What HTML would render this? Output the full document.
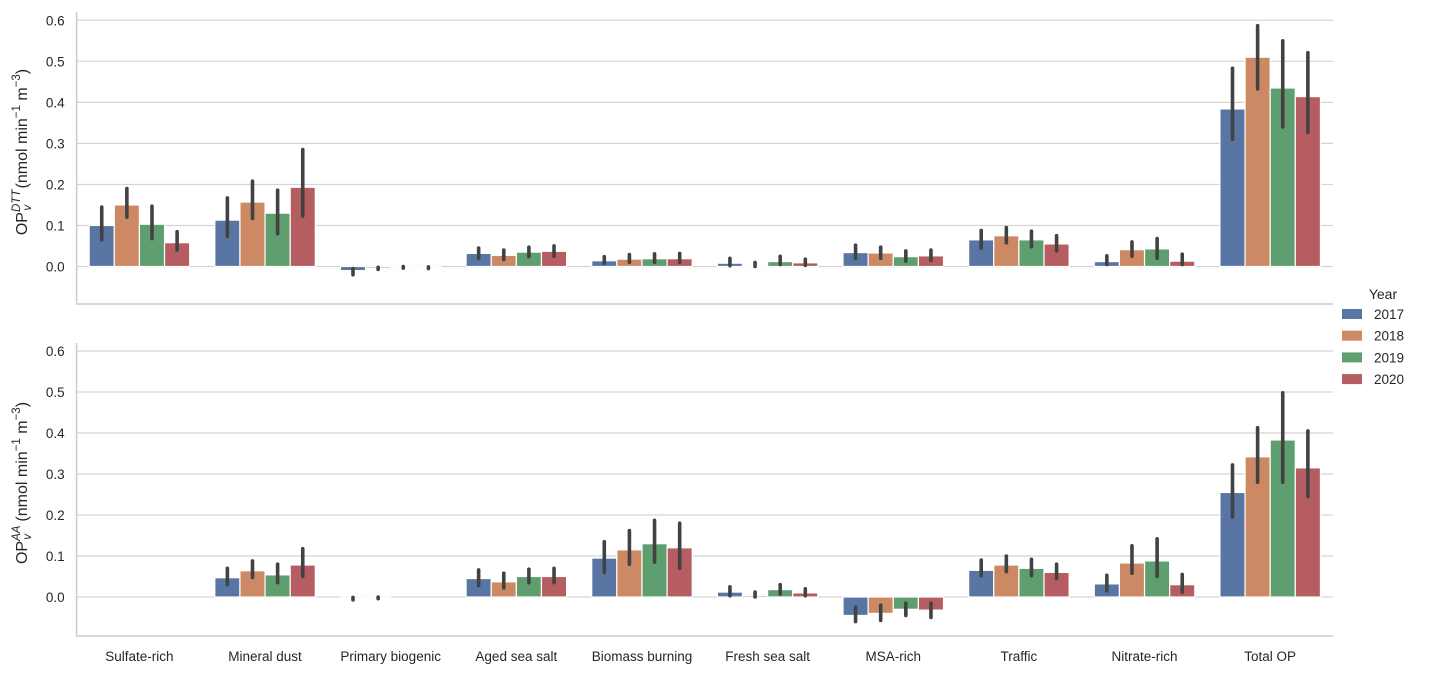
<!DOCTYPE html>
<html><head><meta charset="utf-8"><style>
body{margin:0;background:#fff;}
svg text{font-family:"Liberation Sans","DejaVu Sans",sans-serif;fill:#262626;}
</style></head><body>
<svg id="c" width="1434" height="676" xmlns="http://www.w3.org/2000/svg">
<g id="p0"></g>
<g id="p1"></g>
<g id="leg"></g>
</svg>
<script>
const categories=["Sulfate-rich","Mineral dust","Primary biogenic","Aged sea salt","Biomass burning","Fresh sea salt","MSA-rich","Traffic","Nitrate-rich","Total OP"];
const years=["2017","2018","2019","2020"];
const yTicks=[0.0,0.1,0.2,0.3,0.4,0.5,0.6];
const dtt2017=[0.100,0.113,-0.010,0.032,0.014,0.008,0.034,0.065,0.012,0.384];
const dtt2018=[0.150,0.157,-0.004,0.027,0.018,0.003,0.033,0.075,0.041,0.510];
const dtt2019=[0.103,0.130,-0.002,0.035,0.019,0.012,0.024,0.065,0.043,0.435];
const dtt2020=[0.058,0.193,-0.003,0.037,0.019,0.009,0.026,0.055,0.013,0.414];
const dttLo2017=[0.065,0.073,-0.020,0.020,0.008,0.002,0.020,0.045,0.005,0.310];
const dttHi2017=[0.145,0.167,-0.005,0.045,0.024,0.020,0.052,0.088,0.026,0.483];
const dttLo2018=[0.120,0.117,-0.007,0.017,0.010,0.000,0.020,0.058,0.025,0.433];
const dttHi2018=[0.190,0.208,-0.002,0.040,0.029,0.010,0.047,0.095,0.060,0.587];
const dttLo2019=[0.068,0.080,-0.004,0.024,0.010,0.005,0.013,0.048,0.020,0.340];
const dttHi2019=[0.147,0.186,0.000,0.047,0.031,0.025,0.038,0.086,0.068,0.550];
const dttLo2020=[0.040,0.123,-0.005,0.025,0.010,0.003,0.015,0.038,0.005,0.327];
const dttHi2020=[0.085,0.285,-0.001,0.050,0.032,0.018,0.040,0.075,0.030,0.521];
const aa2017=[0.000,0.047,-0.003,0.045,0.095,0.012,-0.045,0.065,0.032,0.255];
const aa2018=[0.000,0.064,-0.001,0.037,0.115,0.004,-0.040,0.078,0.083,0.342];
const aa2019=[0.000,0.054,0.000,0.050,0.130,0.018,-0.030,0.070,0.088,0.383];
const aa2020=[0.000,0.078,0.000,0.050,0.120,0.010,-0.032,0.060,0.030,0.315];
const aaLo2017=[0,0.030,-0.007,0.028,0.060,0.003,-0.060,0.052,0.015,0.195];
const aaHi2017=[0,0.070,-0.001,0.066,0.135,0.025,-0.025,0.090,0.053,0.322];
const aaLo2018=[0,0.048,-0.004,0.022,0.080,0.000,-0.057,0.062,0.058,0.280];
const aaHi2018=[0,0.088,0.000,0.058,0.162,0.012,-0.020,0.100,0.125,0.413];
const aaLo2019=[0,0.035,0,0.035,0.085,0.007,-0.045,0.052,0.050,0.280];
const aaHi2019=[0,0.080,0,0.068,0.187,0.030,-0.015,0.092,0.142,0.498];
const aaLo2020=[0,0.050,0,0.035,0.070,0.003,-0.050,0.045,0.012,0.245];
const aaHi2020=[0,0.118,0,0.070,0.180,0.020,-0.015,0.080,0.055,0.405];

const colors=["#5975a4","#cc8963","#5f9e6e","#b55d60"];
const NS="http://www.w3.org/2000/svg";
const X0=76.6,X1=1333;
const step=(X1-X0)/categories.length;
function mk(p,t,a){const e=document.createElementNS(NS,t);for(const k in a)e.setAttribute(k,a[k]);p.appendChild(e);return e;}
function panel(g,top0,zeroY,botY,means,los,his,showX,nm){
  const s=(zeroY-top0)/0.6;
  const y=v=>zeroY-v*s;
  const x=i=>X0+step*(i+0.5);
  yTicks.forEach(t=>{
    const gl=mk(g,"line",{x1:X0,x2:X1,y1:y(t),y2:y(t),stroke:"#d4d4d4","stroke-width":1.2});
    
    
    const tx=mk(g,"text",{x:X0-12,y:y(t)+5,"text-anchor":"end","font-size":13.5});
    tx.textContent=t.toFixed(1);
    
    
  });
  const bw=step*0.8/4;
  means.forEach((arr,k)=>{
    arr.forEach((v,i)=>{
      const bx=x(i)-step*0.4+k*bw;
      const r=mk(g,"rect",{x:bx,y:Math.min(y(v),y(0)),width:bw,height:Math.abs(y(v)-y(0)),fill:colors[k],stroke:"#fff","stroke-width":1.2});
      
      
      if(his[k][i]!==los[k][i]){
        const e=mk(g,"line",{x1:bx+bw/2,x2:bx+bw/2,y1:y(los[k][i]),y2:y(his[k][i]),stroke:"#424242","stroke-width":3.6,"stroke-linecap":"round"});
        
        
      }
    });
  });
  const sp=mk(g,"path",{d:`M${X0} ${top0-8} V${botY} H${X1}`,fill:"none",stroke:"#cccccc","stroke-width":1.5});
  
  
  if(showX) categories.forEach((c,i)=>{
    const t=mk(g,"text",{x:x(i),y:botY+25,"text-anchor":"middle","font-size":13.5});
    t.textContent=c;
    
    
  });
}
panel(document.getElementById("p0"),20.3,266.5,304,[dtt2017,dtt2018,dtt2019,dtt2020],[dttLo2017,dttLo2018,dttLo2019,dttLo2020],[dttHi2017,dttHi2018,dttHi2019,dttHi2020],false,"dtt");
panel(document.getElementById("p1"),351,597,636,[aa2017,aa2018,aa2019,aa2020],[aaLo2017,aaLo2018,aaLo2019,aaLo2020],[aaHi2017,aaHi2018,aaHi2019,aaHi2020],true,"aa");

const svg=document.getElementById("c");
function ylab(cx,cy,sup,nm){
  const t=document.createElementNS(NS,"text");
  t.setAttribute("transform",`translate(${cx},${cy}) rotate(-90)`);
  t.setAttribute("text-anchor","middle");t.setAttribute("font-size","16");
  t.innerHTML=`OP<tspan font-size="11.5" font-style="italic" dy="-7">${sup}</tspan><tspan font-size="11.5" font-style="italic" dx="-${sup.length*7}" dy="11">v</tspan><tspan dy="-4" dx="${sup.length*4}"> (nmol min</tspan><tspan font-size="11.5" dy="-7">−1</tspan><tspan dy="7"> m</tspan><tspan font-size="11.5" dy="-7">−3</tspan><tspan dy="7">)</tspan>`;
  
  
  svg.appendChild(t);
}
ylab(27,152,"DTT","y-axis-title-dtt");
ylab(27,483,"AA","y-axis-title-aa");
const leg=document.getElementById("leg");
const lt=mk(leg,"text",{x:1383,y:299,"text-anchor":"middle","font-size":14});
lt.textContent="Year";


years.forEach((yr,k)=>{
  const yy=314+k*21.7;
  const r=mk(leg,"rect",{x:1342,y:yy-5,width:20,height:10,fill:colors[k]});
  
  
  const t=mk(leg,"text",{x:1374,y:yy+5,"font-size":13.5});
  t.textContent=yr;
  
  
});
</script>
</body></html>
